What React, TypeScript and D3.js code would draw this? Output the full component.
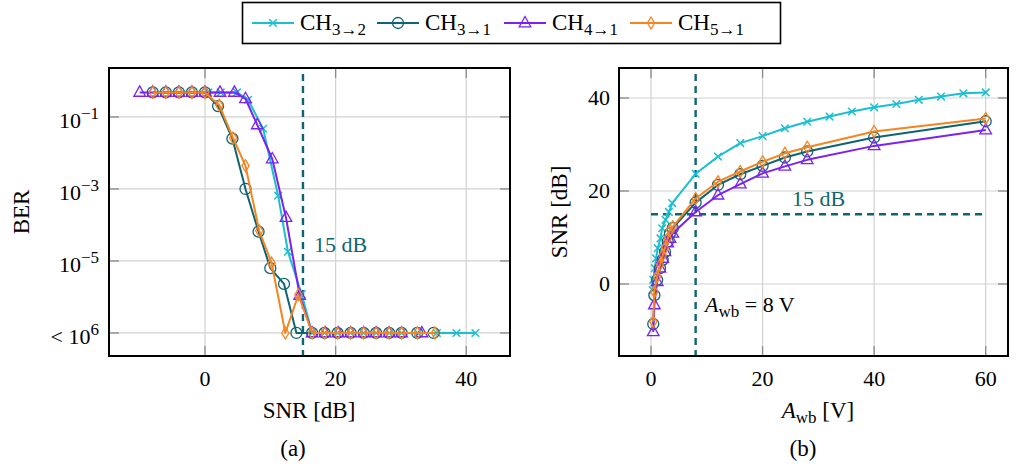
import React from "react";
import * as d3 from "d3";

// ---------- Data ----------
const seriesNames = ["3→2", "3→1", "4→1", "5→1"];
const seriesColors = ["#1cbfd0", "#106472", "#7b22f0", "#f7851f"];
const seriesMarkers = ["cross", "circle", "triangle", "diamond"];

// (a) BER vs SNR
const berSnrCH32 = [0.5, 2.4, 4.9, 6.6, 8.9, 11.2, 12.7, 14.8, 16.4, 18.3, 20.3, 22.3, 24.3, 26.2, 28.2, 30.1, 32.6, 35.5, 38.5, 41.4];
const berCH32 = [0.48, 0.48, 0.48, 0.3, 0.047, 6.5e-4, 1.8e-5, 1.2e-6, 1e-7, 1e-7, 1e-7, 1e-7, 1e-7, 1e-7, 1e-7, 1e-7, 1e-7, 1e-7, 1e-7, 1e-7];
const berSnrCH31 = [-8, -6, -4, -2, 0, 2.0, 4.2, 6.2, 8.2, 10.0, 12.1, 14.0, 16.4, 18.3, 20.3, 22.3, 24.3, 26.2, 28.2, 30.1, 32.5, 35.0];
const berCH31 = [0.48, 0.48, 0.48, 0.48, 0.48, 0.2, 0.025, 1e-3, 6.5e-5, 6.3e-6, 2.3e-6, 1e-7, 1e-7, 1e-7, 1e-7, 1e-7, 1e-7, 1e-7, 1e-7, 1e-7, 1e-7, 1e-7];
const berSnrCH41 = [-10, -8, -6, -4, -2, 0, 2.3, 4.5, 6.2, 8, 10.3, 12.4, 14.5, 16.4, 18.4, 20.4, 22.3, 24.3, 26.2, 28.2, 30.1, 33.2];
const berCH41 = [0.48, 0.48, 0.48, 0.48, 0.48, 0.48, 0.48, 0.48, 0.32, 0.06, 6.8e-3, 1.6e-4, 1.1e-6, 1e-7, 1e-7, 1e-7, 1e-7, 1e-7, 1e-7, 1e-7, 1e-7, 1e-7];
const berSnrCH51 = [-8, -6, -4, -2, 0, 2.2, 4.3, 6.2, 8.3, 10.2, 12.3, 14.3, 16.4, 18.3, 20.3, 22.3, 24.3, 26.2, 28.2, 30.1, 32.5, 35.2];
const berCH51 = [0.48, 0.48, 0.48, 0.48, 0.48, 0.21, 0.026, 4.4e-3, 6.9e-5, 8.7e-6, 1e-7, 1.15e-6, 1e-7, 1e-7, 1e-7, 1e-7, 1e-7, 1e-7, 1e-7, 1e-7, 1e-7, 1e-7];

// (b) SNR vs A_wb
const awbCH32 = [0.3, 0.4, 0.7, 0.9, 1.2, 1.7, 2.0, 2.6, 3.2, 3.8, 8, 12, 16, 20, 24, 28, 32, 36, 40, 44, 48, 52, 56, 60];
const snrCH32 = [-1.3, 0.9, 3.4, 5.5, 7.7, 9.8, 12.0, 13.8, 15.5, 17.4, 23.7, 27.4, 30.3, 31.8, 33.5, 34.9, 36.0, 37.1, 38.0, 38.7, 39.6, 40.3, 41.0, 41.2];
const awbCH31 = [0.4, 0.6, 1.1, 1.6, 2.1, 2.5, 3.0, 3.4, 3.9, 8, 12, 16, 20, 24, 28, 40, 60];
const snrCH31 = [-8.6, -2.4, 0.9, 3.4, 5.2, 6.9, 9.1, 10.9, 12.0, 17.5, 21.3, 23.6, 25.4, 27.2, 28.5, 31.5, 35.0];
const awbCH41 = [0.4, 0.6, 1.1, 1.6, 2.1, 2.5, 3.0, 3.4, 3.9, 8, 12, 16, 20, 24, 28, 40, 60];
const snrCH41 = [-10.3, -4.5, 0.5, 3.4, 5.5, 6.9, 8.8, 9.8, 10.9, 15.5, 19.1, 21.5, 23.8, 25.3, 26.7, 29.7, 33.1];
const awbCH51 = [0.4, 0.6, 1.1, 1.6, 2.1, 2.5, 3.0, 3.4, 3.9, 8, 12, 16, 20, 24, 28, 40, 60];
const snrCH51 = [-8.1, -1.65, 1.6, 4.1, 6.2, 7.7, 9.8, 11.6, 12.3, 18.4, 22.0, 24.2, 26.3, 28.1, 29.4, 32.8, 35.6];

const leftXTicks = [0, 20, 40];
const leftYTicks = [1e-1, 1e-3, 1e-5, 1e-7];
const leftYTickLabels = [["10", "−1"], ["10", "−3"], ["10", "−5"], ["< 10", "6"]];
const rightXTicks = [0, 20, 40, 60];
const rightYTicks = [0, 20, 40];

const snrThreshold = 15;
const awbThreshold = 8;

const FONT = "'Liberation Serif', 'DejaVu Serif', serif";
const DASH = "#106472";

// ---------- Layout ----------
const L = { x0: 109, x1: 510, y0: 68, y1: 356 };
const R = { x0: 619, x1: 1008, y0: 68, y1: 356 };

const lx = d3.scaleLinear().domain([-14.7, 46.7]).range([L.x0, L.x1]);
const ly = d3.scaleLog().domain([Math.pow(10, 0.36), Math.pow(10, -7.64)]).range([L.y0, L.y1]);
const rx = d3.scaleLinear().domain([-5.74, 64]).range([R.x0, R.x1]);
const ry = d3.scaleLinear().domain([46.45, -15.48]).range([R.y0, R.y1]);

function Marker({ type, x, y, color }: { type: string; x: number; y: number; color: string }) {
  if (type === "cross") {
    const s = 3.8;
    return (
      <path d={`M${x - s},${y - s}L${x + s},${y + s}M${x - s},${y + s}L${x + s},${y - s}`} stroke={color} strokeWidth={1.5} fill="none" />
    );
  }
  if (type === "circle") {
    return <circle cx={x} cy={y} r={5.5} stroke={color} strokeWidth={1.3} fill="none" />;
  }
  if (type === "triangle") {
    return <path d={`M${x},${y - 6.5}L${x + 5.8},${y + 3.8}L${x - 5.8},${y + 3.8}Z`} stroke={color} strokeWidth={1.3} fill="none" />;
  }
  return <path d={`M${x},${y - 6}L${x + 3.6},${y}L${x},${y + 6}L${x - 3.6},${y}Z`} stroke={color} strokeWidth={1.3} fill="none" />;
}

function Series({ xs, ys, sx, sy, idx }: { xs: number[]; ys: number[]; sx: any; sy: any; idx: number }) {
  const pts = xs.map((v, i) => [sx(v), sy(ys[i])] as [number, number]);
  const line = d3.line()(pts) || "";
  const color = seriesColors[idx];
  return (
    <g>
      <path d={line} stroke={color} strokeWidth={2} fill="none" strokeLinejoin="round" />
      {pts.map((p, i) => (
        <Marker key={i} type={seriesMarkers[idx]} x={p[0]} y={p[1]} color={color} />
      ))}
    </g>
  );
}

function Frame({ b, xt, yt }: { b: typeof L; xt: number[]; yt: number[] }) {
  const tl = 10;
  return (
    <g>
      {xt.map((x, i) => (
        <g key={"x" + i}>
          <line x1={x} x2={x} y1={b.y0} y2={b.y1} stroke="#d2d2d2" strokeWidth={1.2} />
          <line x1={x} x2={x} y1={b.y0} y2={b.y0 + tl} stroke="#8a8a8a" strokeWidth={1.3} />
          <line x1={x} x2={x} y1={b.y1} y2={b.y1 - tl} stroke="#8a8a8a" strokeWidth={1.3} />
        </g>
      ))}
      {yt.map((y, i) => (
        <g key={"y" + i}>
          <line x1={b.x0} x2={b.x1} y1={y} y2={y} stroke="#d2d2d2" strokeWidth={1.2} />
          <line x1={b.x0} x2={b.x0 + tl} y1={y} y2={y} stroke="#8a8a8a" strokeWidth={1.3} />
          <line x1={b.x1} x2={b.x1 - tl} y1={y} y2={y} stroke="#8a8a8a" strokeWidth={1.3} />
        </g>
      ))}
    </g>
  );
}

export default function App() {
  const leftSeries = [
    [berSnrCH32, berCH32],
    [berSnrCH31, berCH31],
    [berSnrCH41, berCH41],
    [berSnrCH51, berCH51],
  ];
  const rightSeries = [
    [awbCH32, snrCH32],
    [awbCH31, snrCH31],
    [awbCH41, snrCH41],
    [awbCH51, snrCH51],
  ];
  const legendX = [252, 377, 504, 630];

  return (
    <svg width={1025} height={469} style={{ position: "absolute", left: 0, top: 0, background: "#fff" }} fontFamily={FONT}>
      {/* Legend */}
      <rect x={242.5} y={2.5} width={538} height={41} fill="#fff" stroke="#000" strokeWidth={1.6} />
      {seriesNames.map((n, i) => (
        <g key={n}>
          <line x1={legendX[i]} x2={legendX[i] + 42} y1={23} y2={23} stroke={seriesColors[i]} strokeWidth={2} />
          <Marker type={seriesMarkers[i]} x={legendX[i] + 21} y={23} color={seriesColors[i]} />
          <text x={legendX[i] + 48} y={30} fontSize={23} fill="#000">
            CH<tspan dy={5} fontSize={17}>{n}</tspan>
          </text>
        </g>
      ))}

      {/* Left plot */}
      <Frame b={L} xt={leftXTicks.map(lx)} yt={leftYTicks.map(ly)} />
      <line x1={lx(snrThreshold)} x2={lx(snrThreshold)} y1={L.y0 + 6} y2={L.y1} stroke={DASH} strokeWidth={2.4} strokeDasharray="7 5" />
      {leftSeries.map((s, i) => (
        <Series key={i} xs={s[0]} ys={s[1]} sx={lx} sy={ly} idx={i} />
      ))}
      <text x={314} y={252} fontSize={22} fill={DASH}>15 dB</text>
      <rect x={L.x0} y={L.y0} width={L.x1 - L.x0} height={L.y1 - L.y0} fill="none" stroke="#000" strokeWidth={2} />
      {leftXTicks.map((t) => (
        <text key={t} x={lx(t)} y={386} fontSize={22} textAnchor="middle">{t}</text>
      ))}
      {leftYTicks.map((t, i) => (
        <text key={i} x={99} y={ly(t) + 11} fontSize={22} textAnchor="end">
          {leftYTickLabels[i][0]}
          <tspan dy={-9} fontSize={17}>{leftYTickLabels[i][1]}</tspan>
        </text>
      ))}
      <text x={309} y={418} fontSize={23} textAnchor="middle">SNR [dB]</text>
      <text transform={`translate(29,212) rotate(-90)`} fontSize={23} textAnchor="middle">BER</text>
      <text x={293} y={456} fontSize={23} textAnchor="middle">(a)</text>

      {/* Right plot */}
      <Frame b={R} xt={rightXTicks.map(rx)} yt={rightYTicks.map(ry)} />
      <line x1={rx(awbThreshold)} x2={rx(awbThreshold)} y1={R.y0 + 6} y2={R.y1} stroke={DASH} strokeWidth={2.4} strokeDasharray="7 5" />
      <line x1={rx(0)} x2={rx(60)} y1={ry(snrThreshold)} y2={ry(snrThreshold)} stroke={DASH} strokeWidth={2.4} strokeDasharray="7 5" />
      {rightSeries.map((s, i) => (
        <Series key={i} xs={s[0]} ys={s[1]} sx={rx} sy={ry} idx={i} />
      ))}
      <text x={792} y={206} fontSize={22} fill={DASH}>15 dB</text>
      <text x={705} y={312} fontSize={22} fill="#000">
        <tspan fontStyle="italic">A</tspan>
        <tspan dy={5} fontSize={17}>wb</tspan>
        <tspan dy={-5}> = 8 V</tspan>
      </text>
      <rect x={R.x0} y={R.y0} width={R.x1 - R.x0} height={R.y1 - R.y0} fill="none" stroke="#000" strokeWidth={2} />
      {rightXTicks.map((t) => (
        <text key={t} x={rx(t)} y={386} fontSize={22} textAnchor="middle">{t}</text>
      ))}
      {rightYTicks.map((t) => (
        <text key={t} x={610} y={ry(t) + 7} fontSize={22} textAnchor="end">{t}</text>
      ))}
      <text x={818} y={418} fontSize={23} textAnchor="middle">
        <tspan fontStyle="italic">A</tspan>
        <tspan dy={5} fontSize={17}>wb</tspan>
        <tspan dy={-5}> [V]</tspan>
      </text>
      <text transform={`translate(567,212) rotate(-90)`} fontSize={23} textAnchor="middle">SNR [dB]</text>
      <text x={803} y={456} fontSize={23} textAnchor="middle">(b)</text>
    </svg>
  );
}
